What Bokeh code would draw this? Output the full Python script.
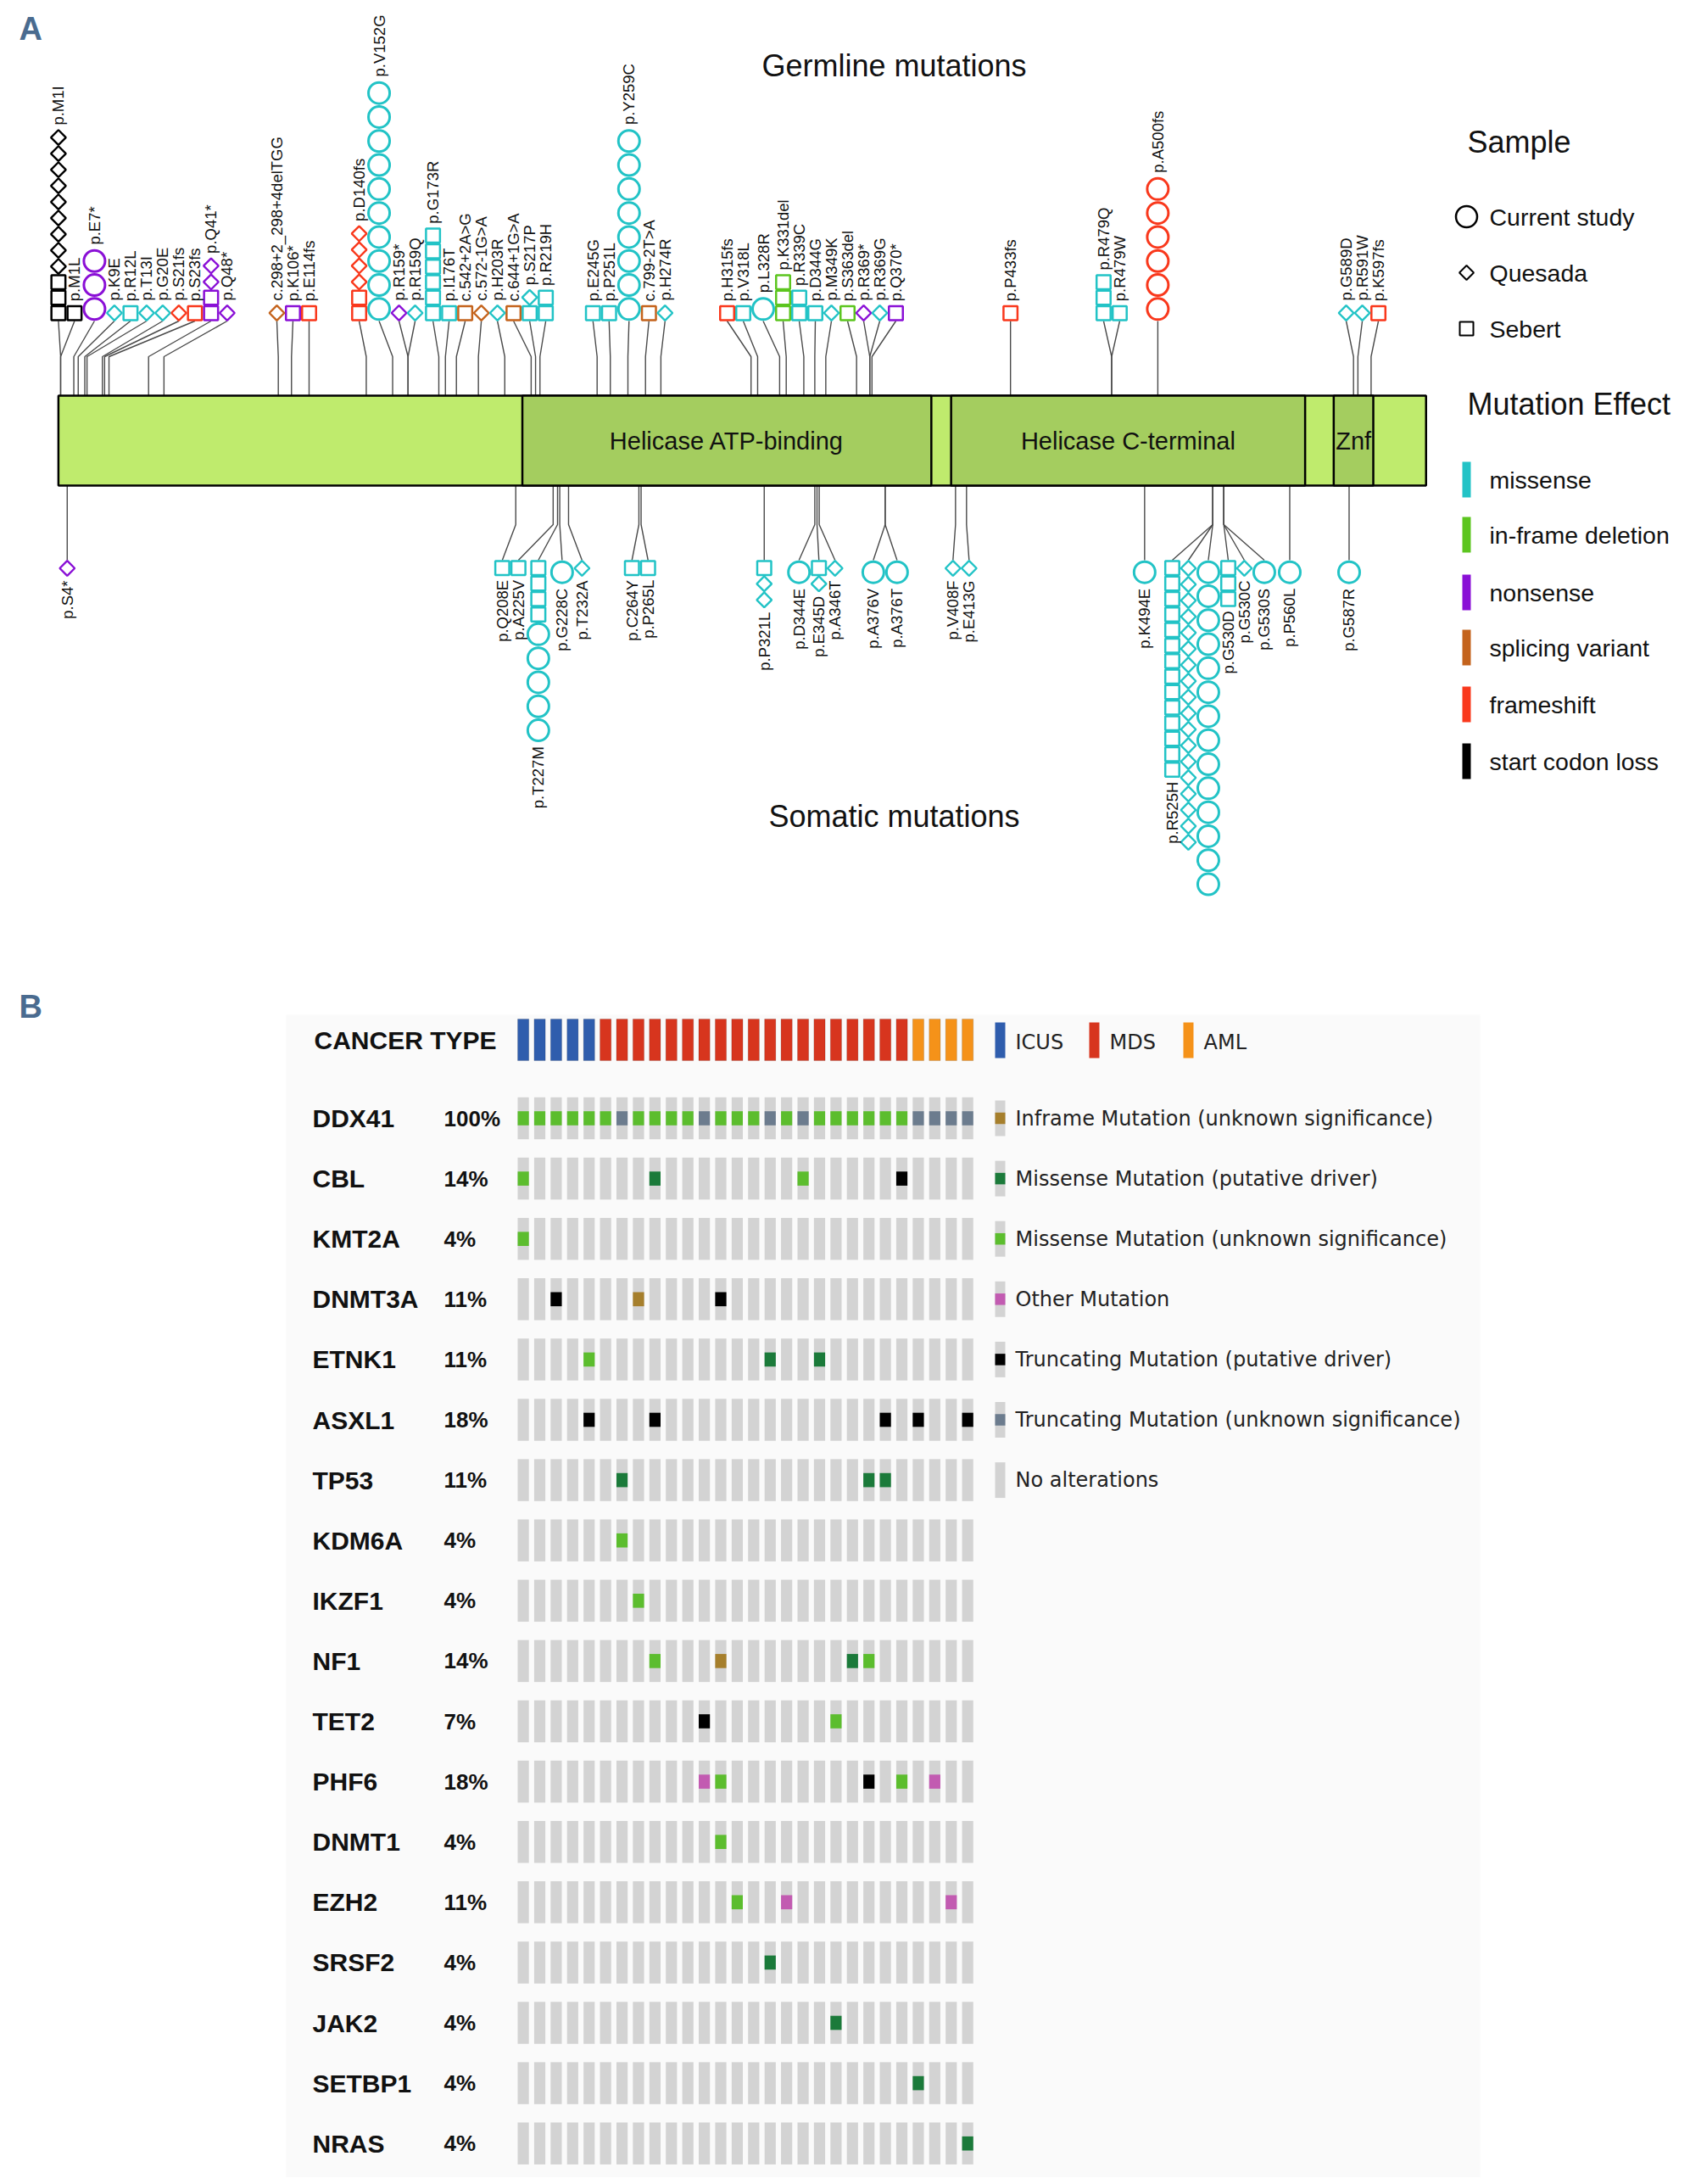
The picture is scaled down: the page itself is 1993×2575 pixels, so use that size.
import numpy as np
from bokeh.plotting import figure
from bokeh.models import Range1d
from bokeh.layouts import column
from bokeh.embed import file_html
from bokeh.resources import INLINE
from bokeh.core.properties import value

SANS = "Liberation Sans"
WIDE = "DejaVu Sans"

# ====================== Panel A data (DDX41 lollipop) ======================
protein_length = 622
domain_names = ["Helicase ATP-binding", "Helicase C-terminal", "Znf"]
domain_starts = [211, 406, 580]
domain_ends = [397, 567, 598]

germ_labels = ["p.M1I", "p.M1L", "p.E7*", "p.K9E", "p.R12L", "p.T13I", "p.G20E", "p.S21fs", "p.S23fs",
               "p.Q41*", "p.Q48*", "c.298+2_298+4delTGG", "p.K106*", "p.E114fs", "p.D140fs", "p.V152G",
               "p.R159*", "p.R159Q", "p.G173R", "p.I176T", "c.542+2A>G", "c.572-1G>A", "p.H203R",
               "c.644+1G>A", "p.S217P", "p.R219H", "p.E245G", "p.P251L", "p.Y259C", "c.799-2T>A",
               "p.H274R", "p.H315fs", "p.V318L", "p.L328R", "p.K331del", "p.R339C", "p.D344G",
               "p.M349K", "p.S363del", "p.R369*", "p.R369G", "p.Q370*", "p.P433fs", "p.R479Q",
               "p.R479W", "p.A500fs", "p.G589D", "p.R591W", "p.K597fs"]
germ_positions = [1, 1, 7, 9, 12, 13, 20, 21, 23, 41, 48, 100, 106, 114, 140, 152, 159, 159, 173, 176,
                  181, 191, 203, 215, 217, 219, 245, 251, 259, 267, 274, 315, 318, 328, 331, 339, 344,
                  349, 363, 369, 369, 370, 433, 479, 479, 500, 589, 591, 597]
# S=start codon loss, N=nonsense, M=missense, F=frameshift, P=splicing variant, I=in-frame deletion
germ_effects = "SSNMMMMFFN" "NPNFFMNMMM" "PPMPMMMMMP" "MFMMIMMMIN" "MNFMMFMMF"
germ_sebert = [3, 1, 0, 0, 1, 0, 0, 0, 1, 2, 0, 0, 1, 1, 2, 0, 0, 0, 6, 1, 1, 0, 0, 1, 1, 2, 1, 1, 0, 1,
               0, 1, 1, 0, 3, 2, 1, 0, 1, 0, 0, 1, 1, 3, 1, 0, 0, 0, 1]
germ_quesada = [9, 0, 0, 1, 0, 1, 1, 1, 0, 2, 1, 1, 0, 0, 4, 0, 1, 1, 0, 0, 0, 1, 1, 0, 1, 0, 0, 0, 0, 0,
                1, 0, 0, 0, 0, 0, 0, 1, 0, 1, 1, 0, 0, 0, 0, 0, 1, 1, 0]
germ_current = [0, 0, 3, 0, 0, 0, 0, 0, 0, 0, 0, 0, 0, 0, 0, 10, 0, 0, 0, 0, 0, 0, 0, 0, 0, 0, 0, 0, 8, 0,
                0, 0, 0, 1, 0, 0, 0, 0, 0, 0, 0, 0, 0, 0, 0, 6, 0, 0, 0]

som_labels = ["p.S4*", "p.Q208E", "p.A225V", "p.T227M", "p.G228C", "p.T232A", "p.C264Y", "p.P265L",
              "p.P321L", "p.D344E", "p.E345D", "p.A346T", "p.A376V", "p.A376T", "p.V408F", "p.E413G",
              "p.K494E", "p.R525H", "p.G530D", "p.G530C", "p.G530S", "p.P560L", "p.G587R"]
som_positions = [4, 208, 225, 227, 228, 232, 264, 265, 321, 344, 345, 346, 376, 376, 408, 413, 494, 525,
                 530, 530, 530, 560, 587]
som_effects = "NMMMMMMMMMMMMMMMMMMMMMM"
som_sebert = [0, 1, 1, 4, 0, 0, 1, 1, 1, 0, 1, 0, 0, 0, 0, 0, 0, 14, 3, 0, 0, 0, 0]
som_quesada = [1, 0, 0, 0, 0, 1, 0, 0, 2, 0, 1, 1, 0, 0, 1, 1, 0, 18, 0, 1, 0, 0, 0]
som_current = [0, 0, 0, 5, 1, 0, 0, 0, 0, 1, 0, 0, 1, 1, 0, 0, 1, 14, 0, 0, 1, 1, 1]

effect_names = ["missense", "in-frame deletion", "nonsense", "splicing variant", "frameshift", "start codon loss"]
effect_codes = ["M", "I", "N", "P", "F", "S"]
effect_colors = ["#22C3C6", "#5CC51F", "#8A10D6", "#C4631C", "#F9381C", "#000000"]
sample_names = ["Current study", "Quesada", "Sebert"]

# ====================== Panel B data (oncoprint) ======================
sample_types = ["ICUS"] * 5 + ["MDS"] * 19 + ["AML"] * 4
cancer_names = ["ICUS", "MDS", "AML"]
cancer_colors = ["#2F5DAD", "#D7351E", "#F59219"]

onco_genes = ["DDX41", "CBL", "KMT2A", "DNMT3A", "ETNK1", "ASXL1", "TP53", "KDM6A", "IKZF1", "NF1",
              "TET2", "PHF6", "DNMT1", "EZH2", "SRSF2", "JAK2", "SETBP1", "NRAS"]
onco_alt_samples = [
    [0, 1, 2, 3, 4, 5, 6, 7, 8, 9, 10, 11, 12, 13, 14, 15, 16, 17, 18, 19, 20, 21, 22, 23, 24, 25, 26, 27],
    [0, 8, 17, 23], [0], [2, 7, 12], [4, 15, 18], [4, 8, 22, 24, 27], [6, 21, 22], [6], [7],
    [8, 12, 20, 21], [11, 19], [11, 12, 21, 23, 25], [12], [13, 16, 26], [15], [19], [24], [27]]
# I=inframe(unknown), D=missense(driver), M=missense(unknown), O=other, X=truncating(driver), T=truncating(unknown)
onco_alt_types = ["MMMMMMTMMMMTMMMTMTMMMMMMTTTT", "MDMX", "M", "XIX", "MDD", "XXXXX", "DDD", "M", "M",
                  "MIDM", "XM", "OMXMO", "M", "MOO", "D", "D", "D", "D"]
alt_codes = ["I", "D", "M", "O", "X", "T"]
alt_names = ["Inframe Mutation (unknown significance)", "Missense Mutation (putative driver)",
             "Missense Mutation (unknown significance)", "Other Mutation",
             "Truncating Mutation (putative driver)", "Truncating Mutation (unknown significance)"]
alt_colors = ["#A67F2C", "#1B7A3A", "#5CBD2E", "#C25BB1", "#000000", "#6C7C8E"]
no_alt_name = "No alterations"
NO_ALT_COLOR = "#D3D3D3"

for s, t in zip(onco_alt_samples, onco_alt_types):
    assert len(s) == len(t)
n_samples = len(sample_types)

# ====================== layout constants (page pixels) ======================
W, HA, HB = 1985, 1112, 1455
PX0, PPA = 68.4, 2.593          # page x of residue 0, pixels per residue
BAR_TOP, BAR_BOT = 466, 572
G_BEND, G_BASE = 420, 378
S_BEND, S_BASE = 618, 660
SHAPE_H = {"square": 18.3, "diamond": 19.0, "circle": 28.3}
eff_color = dict(zip(effect_codes, effect_colors))


def ax(px):
    return (px - PX0) / PPA


def build_columns(labels, positions, effects, seb, que, cur):
    cols = []
    order = sorted(range(len(labels)), key=lambda i: positions[i])
    for i in order:
        segs = [(s, n) for s, n in (("square", seb[i]), ("diamond", que[i]), ("circle", cur[i])) if n > 0]
        total = sum(n for _, n in segs)
        groups = [[s] for s in segs] if total > 15 else [segs]
        for k, g in enumerate(groups):
            cols.append({"label": labels[i] if k == 0 else "", "pos": positions[i],
                         "eff": effects[i], "segs": g})
    return cols


def dodge(desired, widths, lo):
    """Group overlapping columns into blocks; each block is centred on the
    midpoint of its first and last target positions (never left of lo)."""
    n = len(desired)

    def place(i0, i1):
        offs = [0.0]
        for k in range(i0 + 1, i1 + 1):
            offs.append(offs[-1] + (widths[k - 1] + widths[k]) / 2.0)
        c = (desired[i0] + desired[i1]) / 2.0 - offs[-1] / 2.0
        return max(c, lo), offs

    blocks = []
    for i in range(n):
        blocks.append([i, i])
        while len(blocks) > 1:
            a, b = blocks[-2], blocks[-1]
            ca, oa = place(*a)
            cb, ob = place(*b)
            if cb < ca + oa[-1] + (widths[a[1]] + widths[b[0]]) / 2.0 - 1e-9:
                blocks[-2] = [a[0], b[1]]
                blocks.pop()
            else:
                break
    xs = [0.0] * n
    for i0, i1 in blocks:
        c, offs = place(i0, i1)
        for k in range(i1 - i0 + 1):
            xs[i0 + k] = c + offs[k]
    return xs


def draw_side(p, cols, edge, bend, base, direction):
    desired = [PX0 + c["pos"] * PPA for c in cols]
    widths = [28 if any(s == "circle" for s, _ in c["segs"]) else 19 for c in cols]
    xs = dodge(desired, widths, PX0)
    mk = {k: ([], [], []) for k in SHAPE_H}
    stem_x, stem_y = [], []
    lx, ly, lt = [], [], []
    for c, x in zip(cols, xs):
        xa = ax(x)
        stem_x.append([c["pos"], c["pos"], xa])
        stem_y.append([edge, bend, base])
        cum = 0.0
        for shape, n in c["segs"]:
            h = SHAPE_H[shape]
            for _ in range(n):
                mk[shape][0].append(xa)
                mk[shape][1].append(base + direction * (cum + h / 2.0))
                mk[shape][2].append(eff_color[c["eff"]])
                cum += h
        if c["label"]:
            lx.append(xa)
            ly.append(base + direction * (cum + 5))
            lt.append(c["label"])
    p.multi_line(stem_x, stem_y, line_color="#4a4a4a", line_width=1.4)
    return mk, (lx, ly, lt)


pA = figure(width=W, height=HA, x_range=Range1d(ax(0), ax(W)), y_range=Range1d(HA, 0),
            output_backend="svg", toolbar_location=None, min_border=0,
            x_axis_location=None, y_axis_location=None)
pA.grid.visible = False
pA.outline_line_color = None

g_cols = build_columns(germ_labels, germ_positions, germ_effects, germ_sebert, germ_quesada, germ_current)
s_cols = build_columns(som_labels, som_positions, som_effects, som_sebert, som_quesada, som_current)
g_mk, g_lab = draw_side(pA, g_cols, BAR_TOP, G_BEND, G_BASE, -1)
s_mk, s_lab = draw_side(pA, s_cols, BAR_BOT, S_BEND, S_BASE, +1)

# protein bar and domains
pA.quad(left=[0], right=[protein_length], top=[BAR_TOP], bottom=[BAR_BOT],
        fill_color="#BFEB6D", line_color="black", line_width=2.5)
pA.quad(left=domain_starts, right=domain_ends, top=[BAR_TOP] * 3, bottom=[BAR_BOT] * 3,
        fill_color="#A4CD5F", line_color="black", line_width=2.5)
pA.text(x=[(s + e) / 2 for s, e in zip(domain_starts, domain_ends)], y=[(BAR_TOP + BAR_BOT) / 2] * 3,
        text=domain_names, text_align="center", text_baseline="middle",
        text_font=value(SANS), text_font_size="29px", text_color="#111111")

for mk in (g_mk, s_mk):
    pA.scatter(mk["square"][0], mk["square"][1], marker="square", size=16.5, fill_alpha=0,
               line_color=mk["square"][2], line_width=2.5)
    pA.scatter(mk["diamond"][0], mk["diamond"][1], marker="square", angle=np.pi / 4, size=12.5,
               fill_alpha=0, line_color=mk["diamond"][2], line_width=2.4)
    pA.scatter(mk["circle"][0], mk["circle"][1], marker="circle", size=25, fill_alpha=0,
               line_color=mk["circle"][2], line_width=3)

pA.text(x=g_lab[0], y=g_lab[1], text=g_lab[2], angle=np.pi / 2, text_align="left", text_baseline="middle",
        text_font=value(SANS), text_font_size="18.5px", text_color="#111111")
pA.text(x=s_lab[0], y=s_lab[1], text=s_lab[2], angle=np.pi / 2, text_align="right", text_baseline="middle",
        text_font=value(SANS), text_font_size="18.5px", text_color="#111111")

# titles and panel letter
pA.text(x=[ax(1054), ax(1054)], y=[77, 962], text=["Germline mutations", "Somatic mutations"],
        text_align="center", text_baseline="middle", text_font=value(SANS), text_font_size="36px",
        text_color="#111111")
pA.text(x=[ax(22)], y=[33], text=["A"], text_align="left", text_baseline="middle",
        text_font=value(SANS), text_font_size="38px", text_font_style="bold", text_color="#4A6B8F")

# legend A
pA.text(x=[ax(1730), ax(1730)], y=[167, 476], text=["Sample", "Mutation Effect"], text_align="left",
        text_baseline="middle", text_font=value(SANS), text_font_size="36px", text_color="#111111")
pA.scatter([ax(1729)], [255], marker="circle", size=25, fill_alpha=0, line_color="black", line_width=2.5)
pA.scatter([ax(1729)], [321], marker="square", angle=np.pi / 4, size=12, fill_alpha=0,
           line_color="black", line_width=2)
pA.scatter([ax(1729)], [387], marker="square", size=16, fill_alpha=0, line_color="black", line_width=2)
pA.text(x=[ax(1756)] * 3, y=[255, 321, 387], text=sample_names, text_align="left", text_baseline="middle",
        text_font=value(SANS), text_font_size="28.5px", text_color="#111111")
eff_y = [565, 630, 698, 763, 830, 897]
pA.quad(left=[ax(1724)] * 6, right=[ax(1734)] * 6, top=[y - 21 for y in eff_y],
        bottom=[y + 21 for y in eff_y], fill_color=effect_colors, line_color=None)
pA.text(x=[ax(1756)] * 6, y=eff_y, text=effect_names, text_align="left", text_baseline="middle",
        text_font=value(SANS), text_font_size="28.5px", text_color="#111111")

# ====================== Panel B ======================
BX0, BPP = 616.6, 19.41     # page x of sample 0 centre, px per sample
BY0, BRP = 1318.0, 71.1     # page y of gene row 0 centre, px per row
TOPB = HA


def bx(px):
    return (px - BX0) / BPP


def by(py):
    return (py - BY0) / BRP


pB = figure(width=W, height=HB, x_range=Range1d(bx(0), bx(W)), y_range=Range1d(by(TOPB + HB), by(TOPB)),
            output_backend="svg", toolbar_location=None, min_border=0,
            x_axis_location=None, y_axis_location=None)
pB.grid.visible = False
pB.outline_line_color = None

pB.quad(left=[bx(337)], right=[bx(1745)], top=[by(1196)], bottom=[by(TOPB + HB)],
        fill_color="#FAFAFA", line_color=None)
pB.text(x=[bx(22)], y=[by(1186)], text=["B"], text_align="left", text_baseline="middle",
        text_font=value(SANS), text_font_size="38px", text_font_style="bold", text_color="#4A6B8F")

CW = 0.68
CT_Y = by(1225.5)
ct_col = dict(zip(cancer_names, cancer_colors))
sx = list(range(n_samples))
pB.quad(left=[c - CW / 2 for c in sx], right=[c + CW / 2 for c in sx],
        top=[CT_Y - 0.345] * n_samples, bottom=[CT_Y + 0.345] * n_samples,
        fill_color=[ct_col[t] for t in sample_types], line_color="#00000022", line_width=1)
pB.text(x=[bx(370)], y=[CT_Y], text=["CANCER TYPE"], text_align="left", text_baseline="middle",
        text_font=value(SANS), text_font_size="30px", text_font_style="bold", text_color="#111111")

gl, gr, gt, gb = [], [], [], []
for r in range(len(onco_genes)):
    for c in sx:
        gl.append(c - CW / 2); gr.append(c + CW / 2); gt.append(r - 0.348); gb.append(r + 0.348)
pB.quad(left=gl, right=gr, top=gt, bottom=gb, fill_color=NO_ALT_COLOR, line_color=None)

acol = dict(zip(alt_codes, alt_colors))
al, ar, at, ab, ac = [], [], [], [], []
for r, (samps, types) in enumerate(zip(onco_alt_samples, onco_alt_types)):
    for c, t in zip(samps, types):
        al.append(c - CW / 2); ar.append(c + CW / 2); at.append(r - 0.117); ab.append(r + 0.117)
        ac.append(acol[t])
pB.quad(left=al, right=ar, top=at, bottom=ab, fill_color=ac, line_color=None)

rows = list(range(len(onco_genes)))
pct = ["%d%%" % round(100.0 * len(s) / n_samples) for s in onco_alt_samples]
pB.text(x=[bx(368)] * len(rows), y=rows, text=onco_genes, text_align="left", text_baseline="middle",
        text_font=value(SANS), text_font_size="30px", text_font_style="bold", text_color="#111111")
pB.text(x=[bx(523)] * len(rows), y=rows, text=pct, text_align="left", text_baseline="middle",
        text_font=value(SANS), text_font_size="26px", text_font_style="bold", text_color="#111111")

# legend B: cancer types
leg_ct_x = [1179, 1290, 1401]
pB.quad(left=[bx(x - 6) for x in leg_ct_x], right=[bx(x + 6) for x in leg_ct_x],
        top=[by(1205)] * 3, bottom=[by(1247)] * 3, fill_color=cancer_colors, line_color=None)
pB.text(x=[bx(x + 18) for x in leg_ct_x], y=[by(1228)] * 3, text=cancer_names, text_align="left",
        text_baseline="middle", text_font=value(WIDE), text_font_size="24px", text_color="#222222")

# legend B: alterations
nleg = len(alt_names) + 1
pB.quad(left=[bx(1173)] * nleg, right=[bx(1185)] * nleg, top=[r - 0.295 for r in range(nleg)],
        bottom=[r + 0.295 for r in range(nleg)], fill_color=NO_ALT_COLOR, line_color=None)
pB.quad(left=[bx(1173)] * len(alt_names), right=[bx(1185)] * len(alt_names),
        top=[r - 0.095 for r in range(len(alt_names))], bottom=[r + 0.095 for r in range(len(alt_names))],
        fill_color=alt_colors, line_color=None)
pB.text(x=[bx(1197)] * nleg, y=list(range(nleg)), text=alt_names + [no_alt_name], text_align="left",
        text_baseline="middle", text_font=value(WIDE), text_font_size="24px", text_color="#222222")

layout = column(pA, pB, spacing=0)
open("out.html", "w").write(file_html(layout, INLINE, title="DDX41 mutations"))
